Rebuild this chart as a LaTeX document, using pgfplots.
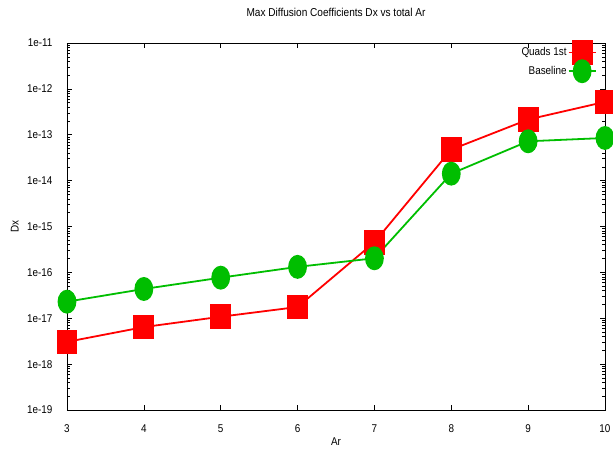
\documentclass[border=0pt]{standalone}
\usepackage{pgfplots}
\pgfplotsset{compat=1.18}
\usepackage{fontspec}
\setmainfont{Liberation Sans}[FakeStretch=0.88]
\definecolor{gred}{RGB}{255,0,0}
\definecolor{ggreen}{RGB}{0,190,0}
\begin{document}
\begin{tikzpicture}
\useasboundingbox (-67bp,-43bp) rectangle (546bp,410bp);
\begin{axis}[
  scale only axis,
  width=538bp, height=367bp,
  ymode=log,
  xmin=3, xmax=10, ymin=1e-19, ymax=1e-11,
  xtick={3,4,5,6,7,8,9,10},
  minor x tick num=0,
  ytick={1e-19,1e-18,1e-17,1e-16,1e-15,1e-14,1e-13,1e-12,1e-11},
  yticklabels={1e-19,1e-18,1e-17,1e-16,1e-15,1e-14,1e-13,1e-12,1e-11},
  minor ytick={2e-19,3e-19,4e-19,5e-19,6e-19,7e-19,8e-19,9e-19,
               2e-18,3e-18,4e-18,5e-18,6e-18,7e-18,8e-18,9e-18,
               2e-17,3e-17,4e-17,5e-17,6e-17,7e-17,8e-17,9e-17,
               2e-16,3e-16,4e-16,5e-16,6e-16,7e-16,8e-16,9e-16,
               2e-15,3e-15,4e-15,5e-15,6e-15,7e-15,8e-15,9e-15,
               2e-14,3e-14,4e-14,5e-14,6e-14,7e-14,8e-14,9e-14,
               2e-13,3e-13,4e-13,5e-13,6e-13,7e-13,8e-13,9e-13,
               2e-12,3e-12,4e-12,5e-12,6e-12,7e-12,8e-12,9e-12},
  tick align=inside,
  major tick length=5bp,
  minor tick length=3bp,
  axis line style={line width=0.8bp},
  every tick/.style={black, line width=0.6bp},
  /pgf/number format/assume math mode=true,
  tick label style={font=\fontsize{11.3}{12}\selectfont},
  xticklabel style={anchor=center, yshift=-19bp},
  yticklabel style={anchor=east, xshift=-11bp},
  title={Max Diffusion Coefficients Dx vs total Ar},
  title style={font=\fontsize{11.5}{12}\selectfont, at={(axis description cs:0.5,1)}, anchor=center, yshift=25bp},
  xlabel={Ar},
  xlabel style={font=\fontsize{11.3}{12}\selectfont, at={(axis description cs:0.5,0)}, anchor=center, yshift=-32bp},
  ylabel={Dx},
  ylabel style={font=\fontsize{11.3}{12}\selectfont, at={(axis description cs:-0.097,0.5)}, anchor=center},
  legend plot pos=right,
  legend cell align=right,
  legend style={draw=none, fill=none, font=\fontsize{11.3}{12}\selectfont,
    at={(axis description cs:0.983,0.993)}, anchor=north east,
    row sep=5bp, inner sep=0pt},
  legend image code/.code={
    \draw[#1, overlay, mark repeat=2, mark phase=2] plot coordinates {(0bp,0bp) (13.5bp,0bp) (27bp,0bp)};
    \path[draw=none, fill=none] (0bp,-5bp) rectangle (27bp,5bp);
  },
]
\addplot[gred, line width=1.8bp, mark=square*, mark size=9.5bp, mark options={solid, yscale=1.2, fill=gred, draw=gred}]
  coordinates {(3,3.06e-18) (4,6.43e-18) (5,1.08e-17) (6,1.76e-17) (7,4.54e-16) (8,4.75e-14) (9,2.15e-13) (10,5.21e-13)};
\addlegendentry{Quads 1st}
\addplot[ggreen, line width=1.8bp, mark=*, mark size=8.5bp, mark options={solid, yscale=1.3, fill=ggreen, draw=ggreen}]
  coordinates {(3,2.30e-17) (4,4.35e-17) (5,7.67e-17) (6,1.32e-16) (7,2.03e-16) (8,1.42e-14) (9,7.21e-14) (10,8.51e-14)};
\addlegendentry{Baseline}
\end{axis}
\end{tikzpicture}
\end{document}
